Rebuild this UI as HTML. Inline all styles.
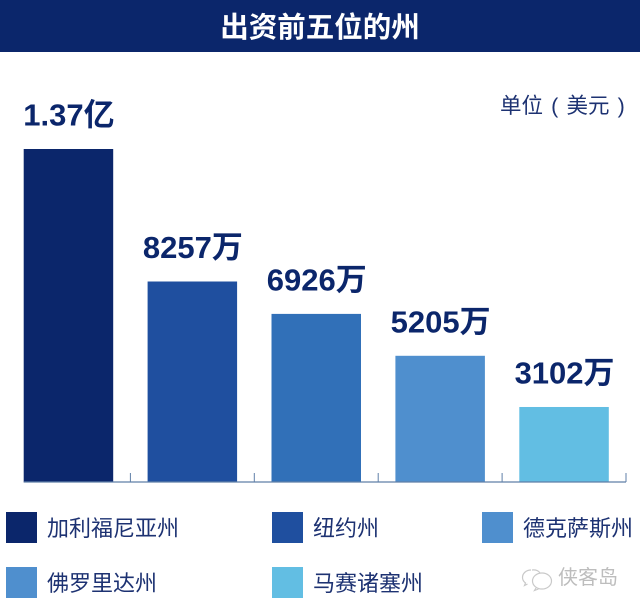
<!DOCTYPE html>
<html>
<head>
<meta charset="utf-8">
<style>
html,body{margin:0;padding:0;background:#fff;width:640px;height:610px;overflow:hidden}
svg{display:block}
text{font-family:"Liberation Sans","Noto Sans CJK SC",sans-serif}
</style>
</head>
<body>
<svg id="chart" width="640" height="610" viewBox="0 0 640 610" xmlns="http://www.w3.org/2000/svg">
  <rect x="0" y="0" width="640" height="52" fill="#0b266b"/>
  <text x="320" y="37" text-anchor="middle" font-size="28.5" font-weight="700" fill="#ffffff">出资前五位的州</text>
  <text x="500" y="113" font-size="21.5" word-spacing="2.2" fill="#1d3272">单位 ( 美元 )</text>
  <g id="bars"></g>
  <g id="axis"></g>
  <g id="legend"></g>
  <g>
    <g fill="none" stroke="#c9c9c9" stroke-width="1.2">
      <path d="M531 570c-5 0-8.500 3.500-8.500 7.500 0 2.500 1 4 3 5.500l-1 2.500 3-1.500"/>
      <path d="M540 573c-1-2-4-3.500-8-3"/>
      <ellipse cx="542" cy="581" rx="9.500" ry="8"/>
      <path d="M536 588l-1.500 2.500 4-1.500"/>
    </g>
    <text x="558" y="584" font-size="20" fill="#bdbdbd">侠客岛</text>
  </g>
</svg>
<script>
var categories = ['加利福尼亚州', '纽约州', '德克萨斯州', '佛罗里达州', '马赛诸塞州'];
var values = [13700, 8257, 6926, 5205, 3102];
var valueLabels = ['1.37亿', '8257万', '6926万', '5205万', '3102万'];
var barColors = ['#0b266b', '#1f4f9f', '#3170b8', '#4f8fce', '#62bee3'];
var legendColors = ['#0b266b', '#1f4f9f', '#4f8fce', '#4f8fce', '#62bee3'];

var NS = 'http://www.w3.org/2000/svg';
var baseY = 482.5, plotLeft = 6.5, bandW = 123.9, barW = 89.5;
function xBand(i) { return plotLeft + bandW * i; }
function yScale(v) { return baseY - v * 333.5 / 13700; }

function mk(tag, attrs, parent) {
  var el = document.createElementNS(NS, tag);
  for (var k in attrs) el.setAttribute(k, attrs[k]);
  parent.appendChild(el);
  return el;
}

var barsG = document.getElementById('bars');
var axisG = document.getElementById('axis');
var legendG = document.getElementById('legend');

var axisLine = mk('line', {x1: 24, x2: 626, y1: 482, y2: 482, stroke: '#5f7fa8', 'stroke-width': 1.2}, axisG);



categories.forEach(function (c, i) {
  var bx = xBand(i) + (bandW - barW) / 2;
  var top = yScale(values[i]);
  var bar = mk('rect', {x: bx, y: top, width: barW, height: baseY - top, fill: barColors[i]}, barsG);
  
  

  var lab = mk('text', {x: bx + barW / 2 + 0.5, y: top - 23.5, 'text-anchor': 'middle', 'font-size': 31, 'font-weight': 700, fill: '#0b266b'}, barsG);
  
  
  lab.textContent = valueLabels[i];

  var tx = xBand(i + 1);
  var tick = mk('line', {x1: tx, x2: tx, y1: 473, y2: 482, stroke: '#5f7fa8', 'stroke-width': 1}, axisG);
  
  

  var col = i < 3 ? i : i - 3;
  var row = i < 3 ? 0 : 1;
  var lx = [6, 272, 482][col];
  var ly = row === 0 ? 512 : 567;
  var sw = mk('rect', {x: lx, y: ly, width: 31, height: 31, fill: legendColors[i]}, legendG);
  
  

  var tl = mk('text', {x: lx + 41, y: ly + 24, 'font-size': 22, fill: '#1d3272'}, legendG);
  
  
  tl.textContent = c;
});
</script>
</body>
</html>
